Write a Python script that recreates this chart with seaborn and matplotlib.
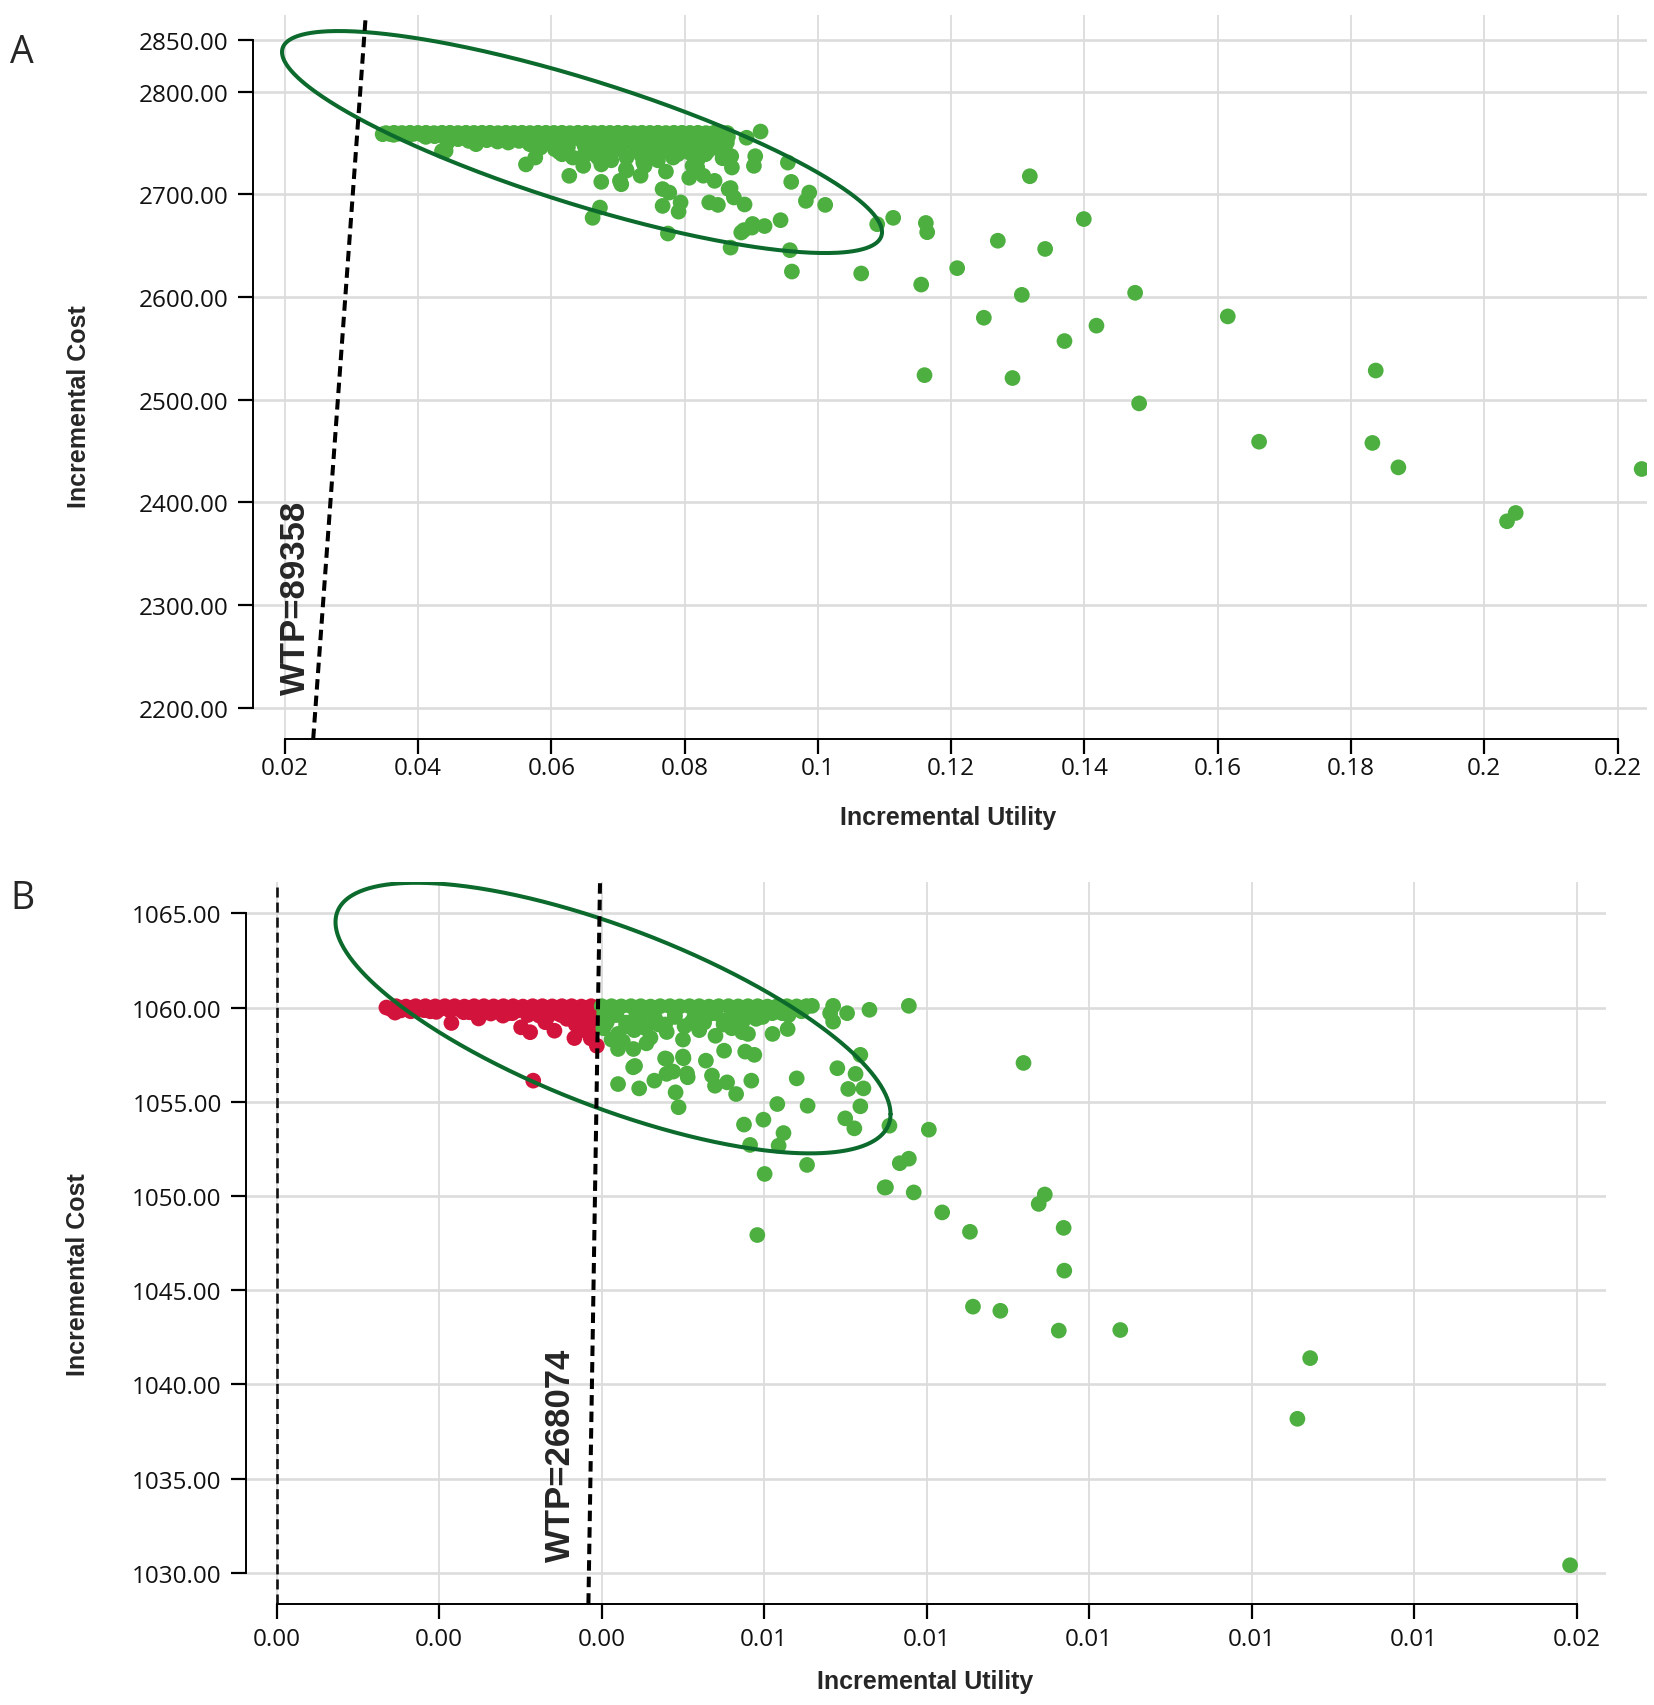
import numpy as np
import pandas as pd
import matplotlib
matplotlib.use("Agg")
import matplotlib.pyplot as plt
import seaborn as sns

# Esik degerleri (WTP)
WTP_A = 89358
WTP_B = 268074

# ---------------- Panel A verileri ----------------
# ust bant (maliyet tavani ~2760)
A_band_util = [0.0352, 0.0364, 0.0376, 0.0388, 0.0400, 0.0412, 0.0424, 0.0436, 0.0448, 0.0460, 0.0472,
               0.0484, 0.0496, 0.0508, 0.0520, 0.0532, 0.0544, 0.0556, 0.0568, 0.0580, 0.0592, 0.0604,
               0.0616, 0.0628, 0.0640, 0.0652, 0.0664, 0.0676, 0.0688, 0.0700, 0.0712, 0.0724, 0.0736,
               0.0748, 0.0760, 0.0772, 0.0784, 0.0796, 0.0808, 0.0820, 0.0832, 0.0844, 0.0856, 0.0864]
A_band_cost = [2759.5, 2759.8, 2759.6, 2759.8, 2759.7, 2759.8, 2759.5, 2759.8, 2759.8, 2759.6, 2759.8,
               2759.7, 2759.8, 2759.8, 2759.5, 2759.8, 2759.7, 2759.8, 2759.6, 2759.8, 2759.8, 2759.7,
               2759.8, 2759.5, 2759.8, 2759.8, 2759.6, 2759.8, 2759.7, 2759.8, 2759.8, 2759.5, 2759.8,
               2759.7, 2759.8, 2759.6, 2759.8, 2759.8, 2759.7, 2759.8, 2759.5, 2759.8, 2759.7, 2759.6]
# bandin ikinci sirasi (aralari dolduran)
A_band2_util = [0.0358, 0.0370, 0.0382, 0.0394, 0.0406, 0.0418, 0.0430, 0.0442, 0.0454, 0.0466, 0.0478,
                0.0490, 0.0502, 0.0514, 0.0526, 0.0538, 0.0550, 0.0562, 0.0574, 0.0586, 0.0598, 0.0610,
                0.0622, 0.0634, 0.0646, 0.0658, 0.0670, 0.0682, 0.0694, 0.0706, 0.0718, 0.0730, 0.0742,
                0.0754, 0.0766, 0.0778, 0.0790, 0.0802, 0.0814, 0.0826, 0.0838, 0.0850, 0.0860]
A_band2_cost = [2758.6, 2758.9, 2758.2, 2758.8, 2758.0, 2758.7, 2757.6, 2758.4, 2757.2, 2758.6, 2757.0,
                2757.8, 2756.4, 2757.9, 2756.0, 2757.2, 2755.4, 2756.8, 2754.6, 2756.0, 2754.0, 2756.2,
                2753.4, 2755.0, 2752.6, 2754.8, 2752.0, 2754.2, 2751.6, 2753.8, 2751.0, 2753.0, 2750.6,
                2753.6, 2751.2, 2752.8, 2750.4, 2753.0, 2751.8, 2752.4, 2750.8, 2753.4, 2754.6]

# bandin hemen altindaki katmanlar
A_layer_util = [0.03634, 0.03849, 0.04118, 0.04441, 0.04414, 0.04602, 0.04763, 0.04871, 0.05032, 0.05194,
                0.05355, 0.05516, 0.05677, 0.05839, 0.06054, 0.06161, 0.06323, 0.06484, 0.06591, 0.06699,
                0.06860, 0.07022, 0.07129, 0.07290, 0.07452, 0.07559, 0.07720, 0.07828, 0.07935, 0.08070,
                0.08204, 0.08312, 0.08419, 0.08527, 0.08634,
                0.0425, 0.0445, 0.0470, 0.0495, 0.0520, 0.0545, 0.0570, 0.0595, 0.0620, 0.0645,
                0.0670, 0.0695, 0.0720, 0.0745, 0.0770, 0.0795, 0.0820, 0.0845, 0.0865,
                0.0575, 0.0600, 0.0625, 0.0650, 0.0675, 0.0700, 0.0725, 0.0750, 0.0775, 0.0800,
                0.0825, 0.0850, 0.0612, 0.0660, 0.0690, 0.0735, 0.0760, 0.0790, 0.0815, 0.0835,
                0.0857, 0.0870]
A_layer_cost = [2757.8, 2756.8, 2755.8, 2750.3, 2742.2, 2753.6, 2751.9, 2748.7, 2752.6, 2751.3,
                2750.3, 2751.9, 2748.7, 2745.4, 2743.8, 2738.9, 2735.7, 2737.3, 2742.2, 2735.7,
                2740.6, 2743.8, 2735.7, 2742.2, 2738.9, 2747.1, 2742.2, 2735.7, 2745.4, 2740.6,
                2747.1, 2738.9, 2748.7, 2743.8, 2750.3,
                2756.5, 2757.0, 2756.0, 2757.0, 2756.0, 2755.5, 2756.0, 2754.0, 2755.0, 2753.0,
                2754.0, 2752.0, 2754.0, 2752.0, 2754.0, 2753.0, 2755.0, 2754.5, 2756.0,
                2747.0, 2749.0, 2746.0, 2747.0, 2745.0, 2748.0, 2746.0, 2745.0, 2748.0, 2746.0,
                2744.0, 2746.0, 2741.0, 2740.0, 2733.0, 2738.0, 2733.0, 2739.0, 2736.0, 2742.0,
                2735.0, 2737.0]

# dagilmis noktalar
A_util = [0.0347, 0.0562, 0.0576, 0.0627, 0.0648, 0.0675, 0.0675, 0.0705, 0.0713, 0.0734,
          0.0740, 0.0772, 0.0767, 0.0777, 0.0767, 0.0794, 0.0791, 0.0807, 0.0812, 0.0820,
          0.0845, 0.0861, 0.0871, 0.0866, 0.0874, 0.0890, 0.0837, 0.0850, 0.0893, 0.0914,
          0.0906, 0.0904, 0.0955, 0.0960, 0.0987, 0.0982, 0.1011, 0.0944, 0.0920, 0.0901,
          0.0885, 0.1089, 0.1113, 0.0958, 0.0961, 0.1065, 0.0869, 0.0775, 0.0673, 0.0662,
          0.0828, 0.0819, 0.0738, 0.0712, 0.0703, 0.0841, 0.0436, 0.0869, 0.0902, 0.0889,
          0.1318, 0.1399, 0.1162, 0.1164, 0.1270, 0.1341, 0.1209, 0.1155, 0.1306, 0.1476,
          0.1615, 0.1249, 0.1418, 0.1370, 0.1160, 0.1292, 0.1837, 0.1482, 0.1662, 0.1832,
          0.1871, 0.2236, 0.2047, 0.2034]
A_cost = [2758.4, 2729.0, 2735.7, 2717.9, 2727.6, 2729.0, 2712.0, 2709.7, 2723.0, 2718.0,
          2727.6, 2722.0, 2705.0, 2701.6, 2688.6, 2692.0, 2683.0, 2716.0, 2727.6, 2734.0,
          2713.0, 2742.0, 2726.0, 2705.0, 2696.8, 2690.0, 2692.0, 2689.6, 2755.0, 2761.0,
          2737.0, 2727.6, 2730.8, 2712.0, 2701.6, 2693.5, 2689.6, 2674.7, 2669.0, 2667.5,
          2662.7, 2670.8, 2677.0, 2645.5, 2624.7, 2622.8, 2648.0, 2661.7, 2687.0, 2677.0,
          2718.0, 2726.0, 2731.0, 2724.5, 2713.0, 2747.0, 2742.0, 2706.0, 2671.0, 2665.0,
          2717.5, 2675.8, 2672.0, 2663.0, 2654.7, 2646.7, 2628.0, 2612.0, 2602.0, 2604.0,
          2581.0, 2579.7, 2572.0, 2557.0, 2523.8, 2521.0, 2528.3, 2496.3, 2459.0, 2457.8,
          2434.0, 2432.4, 2389.6, 2381.5]

# guven elipsi (merkez ve kovaryans)
A_ell_center = (0.06461, 2750.8)
A_ell_cov = [[2.026e-3, -3.9445], [-3.9445, 11682.0]]

A_xticks = [0.02, 0.04, 0.06, 0.08, 0.10, 0.12, 0.14, 0.16, 0.18, 0.20, 0.22]
A_xtick_labels = ["0.02", "0.04", "0.06", "0.08", "0.1", "0.12", "0.14", "0.16", "0.18", "0.2", "0.22"]
A_yticks = [2200, 2300, 2400, 2500, 2600, 2700, 2800, 2850]

# ---------------- Panel B verileri ----------------
B_band_util = [0.00135, 0.00147, 0.00159, 0.00171, 0.00183, 0.00195, 0.00207, 0.00219, 0.00231, 0.00243,
               0.00255, 0.00267, 0.00279, 0.00291, 0.00303, 0.00315, 0.00327, 0.00339, 0.00351, 0.00363,
               0.00375, 0.00387, 0.00393,
               0.00400, 0.00412, 0.00424, 0.00436, 0.00448, 0.00460, 0.00472, 0.00484, 0.00496, 0.00508,
               0.00520, 0.00532, 0.00544, 0.00556, 0.00568, 0.00580, 0.00592, 0.00604, 0.00616, 0.00628,
               0.00640, 0.00652]
B_band_cost = [1060.00, 1060.07, 1060.05, 1060.07, 1060.07, 1060.06, 1060.07, 1060.07, 1060.05, 1060.07,
               1060.07, 1060.06, 1060.07, 1060.07, 1060.05, 1060.07, 1060.07, 1060.06, 1060.07, 1060.07,
               1060.05, 1060.07, 1060.00,
               1060.07, 1060.07, 1060.06, 1060.07, 1060.07, 1060.05, 1060.07, 1060.07, 1060.06, 1060.07,
               1060.07, 1060.05, 1060.07, 1060.07, 1060.06, 1060.07, 1060.07, 1060.05, 1060.07, 1060.07,
               1060.06, 1060.05]
# bandin ikinci sirasi
B_band2_util = [0.00141, 0.00153, 0.00165, 0.00177, 0.00189, 0.00201, 0.00213, 0.00225, 0.00237, 0.00249,
                0.00261, 0.00273, 0.00285, 0.00297, 0.00309, 0.00321, 0.00333, 0.00345, 0.00357, 0.00369,
                0.00381, 0.00390,
                0.00403, 0.00406, 0.00418, 0.00430, 0.00442, 0.00454, 0.00466, 0.00478, 0.00490, 0.00502,
                0.00514, 0.00526, 0.00538, 0.00550, 0.00562, 0.00574, 0.00586, 0.00598, 0.00610, 0.00622,
                0.00634, 0.00646]
B_band2_cost = [1059.90, 1059.85, 1059.95, 1059.90, 1059.80, 1059.92, 1059.85, 1059.90, 1059.75, 1059.88,
                1059.90, 1059.80, 1059.70, 1059.85, 1059.60, 1059.80, 1059.50, 1059.70, 1059.40, 1059.55,
                1059.30, 1059.45,
                1059.70, 1059.20, 1059.60, 1059.00, 1059.50, 1058.90, 1059.40, 1059.10, 1059.60, 1059.00,
                1059.50, 1059.20, 1059.70, 1059.10, 1059.60, 1059.30, 1059.80, 1059.50, 1059.85, 1059.70,
                1059.90, 1059.80]

B_util = [0.001456, 0.001814, 0.002150, 0.001963, 0.002485, 0.002635, 0.002784, 0.003008, 0.003119, 0.003231,
          0.003306, 0.003418, 0.003604, 0.003664, 0.003753, 0.003865, 0.003902, 0.003940, 0.003157, 0.001650,
          0.002300, 0.002900, 0.003500, 0.003800, 0.003680, 0.003880, 0.003750,
          0.00410, 0.00430, 0.00450, 0.00470, 0.00490, 0.00510, 0.00530, 0.00550, 0.00570, 0.00590,
          0.00610, 0.00630, 0.00402, 0.00420, 0.00440, 0.00460, 0.00480, 0.00500, 0.00520, 0.00540,
          0.00560, 0.00580, 0.00412, 0.00426, 0.00439, 0.00455, 0.00441, 0.00478, 0.00500, 0.00488,
          0.00505,
          0.004201, 0.004238, 0.004387, 0.004201, 0.004461, 0.004648, 0.004797, 0.005006, 0.004797, 0.005058,
          0.004909, 0.004946, 0.005282, 0.005357, 0.005506, 0.005394, 0.005543, 0.005654, 0.005841, 0.005766,
          0.005878, 0.005729, 0.006102, 0.006288, 0.006400, 0.006161, 0.006534, 0.005751, 0.005990, 0.006237,
          0.005826, 0.006177, 0.006527, 0.006005, 0.005915, 0.006900, 0.007124, 0.007183, 0.007221, 0.007034,
          0.007183, 0.006997, 0.007109, 0.007541, 0.008026, 0.007482, 0.007668, 0.007780, 0.007840, 0.008190,
          0.006848, 0.007295, 0.007780, 0.006811, 0.006848, 0.006587, 0.007020, 0.006520, 0.006220, 0.007498,
          0.009191, 0.008532, 0.009378, 0.009453, 0.009685, 0.009693, 0.008569, 0.008906, 0.009625, 0.010382,
          0.012719, 0.012562, 0.015918]
B_cost = [1059.73, 1059.86, 1059.18, 1059.77, 1059.42, 1059.68, 1059.57, 1058.95, 1058.69, 1059.57,
          1059.22, 1058.77, 1059.57, 1058.38, 1059.40, 1058.36, 1059.05, 1057.97, 1056.12, 1059.80,
          1059.75, 1059.70, 1059.60, 1059.70, 1059.10, 1058.70, 1058.80,
          1059.50, 1059.20, 1059.60, 1059.10, 1059.50, 1059.20, 1059.60, 1059.30, 1059.60, 1059.40,
          1059.70, 1059.60, 1058.90, 1058.60, 1058.80, 1058.40, 1058.70, 1058.30, 1058.80, 1058.50,
          1058.90, 1058.60, 1058.30, 1058.20, 1057.80, 1058.10, 1056.90, 1057.30, 1057.40, 1056.60,
          1056.50,
          1057.80, 1058.24, 1056.83, 1055.94, 1055.71, 1056.12, 1057.27, 1057.31, 1056.48, 1056.30,
          1055.50, 1054.71, 1057.18, 1056.39, 1057.71, 1055.85, 1056.03, 1055.41, 1056.12, 1057.66,
          1057.49, 1058.69, 1058.60, 1058.86, 1056.24, 1054.88, 1054.79, 1053.79, 1054.05, 1053.34,
          1052.71, 1052.67, 1051.65, 1051.17, 1047.93, 1056.78, 1056.48, 1057.49, 1055.71, 1055.68,
          1054.76, 1054.12, 1053.59, 1053.73, 1053.52, 1050.45, 1051.74, 1051.98, 1050.19, 1049.13,
          1060.09, 1059.88, 1060.09, 1059.70, 1059.25, 1060.09, 1059.70, 1060.07, 1059.86, 1050.46,
          1057.06, 1048.10, 1049.58, 1050.08, 1048.31, 1046.04, 1044.13, 1043.91, 1042.86, 1042.89,
          1041.40, 1038.18, 1030.41]

B_ell_center = (0.004139, 1059.44)
B_ell_cov = [[1.16648e-5, -0.017394], [-0.017394, 51.52]]

B_xticks = [0.000, 0.002, 0.004, 0.006, 0.008, 0.010, 0.012, 0.014, 0.016]
B_yticks = [1030, 1035, 1040, 1045, 1050, 1055, 1060, 1065]

GREEN = "#4caf3f"
RED = "#d2143c"
ELL = "#0b6a2c"


def make_df(utils, costs, wtp):
    df = pd.DataFrame({"util": np.concatenate(utils), "cost": np.concatenate(costs)})
    df["grp"] = np.where(df["util"] * wtp >= df["cost"], "ce", "nce")
    return df


def ellipse_xy(center, cov):
    t = np.linspace(0, 2 * np.pi, 500)
    L = np.linalg.cholesky(np.array(cov))
    p = L @ np.vstack([np.cos(t), np.sin(t)])
    return center[0] + p[0], center[1] + p[1]


sns.set_theme(style="white")
plt.rcParams["font.family"] = ["Open Sans", "DejaVu Sans"]

fig = plt.figure(figsize=(16.54, 17.06), dpi=100)
ax_a = fig.add_axes([0.15296, 0.56624, 0.8428, 0.42438])
ax_b = fig.add_axes([0.14873, 0.05938, 0.82225, 0.42304])

df_a = make_df([A_band_util, A_band2_util, A_layer_util, A_util],
               [A_band_cost, A_band2_cost, A_layer_cost, A_cost], WTP_A)
df_b = make_df([B_band_util, B_band2_util, B_util], [B_band_cost, B_band2_cost, B_cost], WTP_B)

lab_font = dict(fontsize=18, fontweight="bold", family=["Liberation Sans", "DejaVu Sans"])
wtp_font = dict(fontsize=25, fontweight="bold", family=["Liberation Sans", "DejaVu Sans"])

panels = [
    (ax_a, df_a, WTP_A, (0.015244, 0.2244), (2169.5, 2874.5), A_ell_center, A_ell_cov),
    (ax_b, df_b, WTP_B, (-0.000378, 0.01636), (1028.37, 1066.66), B_ell_center, B_ell_cov),
]

for ax, df, wtp, xl, yl, ec, ecov in panels:
    ax.set_axisbelow(True)
    sns.scatterplot(data=df, x="util", y="cost", hue="grp", palette={"ce": GREEN, "nce": RED},
                    s=128, linewidth=0, legend=False, ax=ax, zorder=3)
    # WTP dogrusu (orijinden gecen)
    yy = np.array(yl)
    ax.plot(yy / wtp, yy, color="black", lw=2.9, dashes=(2.6, 1.5), zorder=5)
    ex, ey = ellipse_xy(ec, ecov)
    ax.plot(ex, ey, color=ELL, lw=2.9, zorder=4)
    ax.set_xlim(*xl)
    ax.set_ylim(*yl)
    ax.grid(True, axis="y", color="#dcdcdc", lw=1.9)
    ax.grid(True, axis="x", color="#dcdcdc", lw=1.3)
    for s in ["top", "right"]:
        ax.spines[s].set_visible(False)
    for s in ["left", "bottom"]:
        ax.spines[s].set_color("black")
        ax.spines[s].set_linewidth(1.4)
    ax.tick_params(axis="both", which="major", bottom=True, left=True, direction="out",
                   length=11, width=1.6, color="black", labelsize=17.5, labelcolor="#111111")
    ax.set_xlabel("Incremental Utility", **lab_font)
    ax.set_ylabel("Incremental Cost", **lab_font)
    ax.xaxis.label.set_va("center")
    ax.yaxis.label.set_va("center")

# Panel A eksenleri
ax_a.set_xticks(A_xticks)
ax_a.set_xticklabels(A_xtick_labels)
ax_a.set_yticks(A_yticks)
ax_a.set_yticklabels([f"{v:.2f}" for v in A_yticks])
ax_a.spines["left"].set_bounds(2200, 2850)
ax_a.spines["bottom"].set_bounds(0.02, 0.22)
ax_a.tick_params(axis="x", pad=1.5)
ax_a.tick_params(axis="y", pad=6.5)
ax_a.xaxis.set_label_coords(0.499, -0.1077)
ax_a.yaxis.set_label_coords(-0.1245, 0.46)
ax_a.text(0.0216, 2308, f"WTP={WTP_A}", rotation=90, ha="center", va="center", zorder=6, **wtp_font)

# Panel B eksenleri
ax_b.axvline(0, color="#111111", lw=1.9, dashes=(3.8, 1.9), zorder=2)
ax_b.set_xticks(B_xticks)
ax_b.set_xticklabels([f"{v:.2f}" for v in B_xticks])
ax_b.set_yticks(B_yticks)
ax_b.set_yticklabels([f"{v:.2f}" for v in B_yticks])
ax_b.spines["left"].set_bounds(1030, 1065)
ax_b.spines["bottom"].set_bounds(0.0, 0.016)
ax_b.tick_params(axis="x", pad=6)
ax_b.tick_params(axis="y", pad=6.5)
ax_b.xaxis.set_label_coords(0.4993, -0.107)
ax_b.yaxis.set_label_coords(-0.1233, 0.4568)
ax_b.text(0.00349, 1036.3, f"WTP={WTP_B}", rotation=90, ha="center", va="center", zorder=6, **wtp_font)

# Panel harfleri
fig.text(22 / 1654, 1 - 53 / 1706, "A", fontsize=27, ha="center", va="center")
fig.text(22 / 1654, 1 - 899 / 1706, "B", fontsize=27, ha="center", va="center")

fig.savefig("out.png", dpi=100)
